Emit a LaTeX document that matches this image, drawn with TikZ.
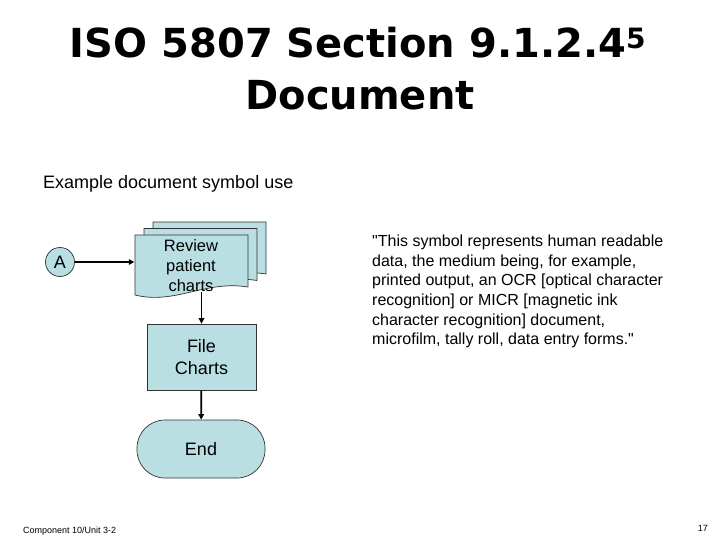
\documentclass[tikz,border=0pt]{standalone}
\usepackage{fontspec}
\setmainfont{Liberation Sans}[Ligatures=TeXOff]
\newfontfamily\titlefont{DejaVu Sans}
\usetikzlibrary{arrows.meta,positioning}
\definecolor{symfill}{RGB}{186,223,227}
\tikzset{
  sym/.style={draw=black!80, line width=0.7pt, fill=symfill},
  flow/.style={line width=1.7pt, -{Triangle[length=5.5pt,width=5.5pt]}},
  lbl/.style={font=\fontsize{18}{22}\selectfont, align=center}
}
\begin{document}
\begin{tikzpicture}[x=1pt, y=-1pt]
  \useasboundingbox (0,0) rectangle (720,540);

  % Titel
  \node [anchor=base, font=\titlefont\bfseries\fontsize{40}{48}\selectfont] (title1) at (358,58) {ISO 5807 Section 9.1.2.4\textsuperscript{5}};
  \node [anchor=base, font=\titlefont\bfseries\fontsize{40}{48}\selectfont] (title2) at (360,110) {Document};

  % Untertitel
  \node [anchor=base west, inner sep=0, font=\fontsize{18}{22}\selectfont] (sub) at (43,189) {Example document symbol use};

  % Konnektor
  \node [sym, circle, minimum size=29pt, inner sep=0, font=\fontsize{18}{22}\selectfont] (conA) at (60,262) {A};

  % Dokumentstapel (hinten nach vorne)
  \foreach \dx/\dy in {18/-13, 9/-6.5, 0/0}
    \draw [sym, shift={(\dx,\dy)}] (135,235) -- (248,235) -- (248,287) .. controls (205,280) and (175,305) .. (135,295) -- cycle;
  \node [lbl, inner sep=0, minimum width=113pt, font=\fontsize{16.5}{20}\selectfont] (rev) at (191,266) {Review\\patient\\charts};

  % Prozess und Ende
  \node [sym, lbl, minimum width=109pt, minimum height=66pt] (file) at (201.5,357) {File\\Charts};
  \node [sym, lbl, rounded corners=28pt, minimum width=128pt, minimum height=58pt] (term) at (201,449) {End};

  % Verbindungen
  \draw [flow] (conA) -- (conA -| rev.west);
  \draw [flow] (rev.south -| file.north) -- (file.north);
  \draw [flow] (file) -- (term);

  % Zitat
  \node [anchor=north west, align=left, inner sep=0, font=\fontsize{16}{19.6}\selectfont] (quote) at (372,235)
    {"This symbol represents human readable\\data, the medium being, for example,\\printed output, an OCR [optical character\\recognition] or MICR [magnetic ink\\character recognition] document,\\microfilm, tally roll, data entry forms."};

  % Fusszeile
  \node [anchor=base west, inner sep=0, font=\fontsize{9}{11}\selectfont] (foot) at (23,533) {Component 10/Unit 3-2};
  \node [anchor=base east, inner sep=0, font=\fontsize{9}{11}\selectfont] (page) at (708,531) {17};
\end{tikzpicture}
\end{document}
